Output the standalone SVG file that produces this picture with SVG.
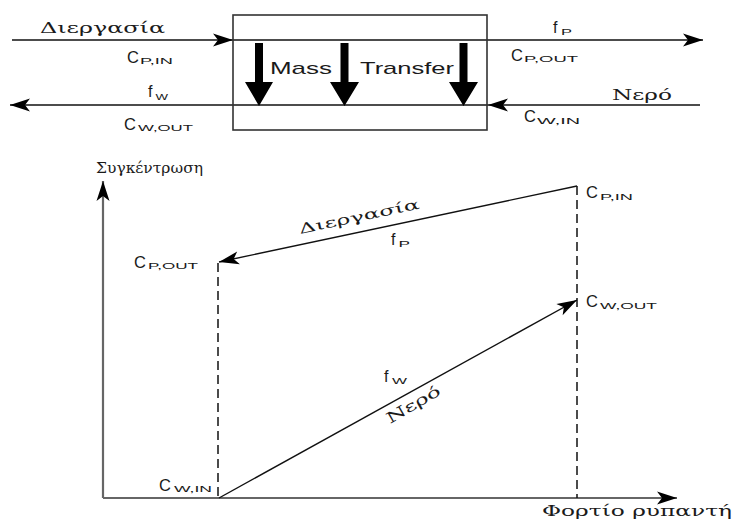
<svg xmlns="http://www.w3.org/2000/svg" width="737" height="527" viewBox="0 0 737 527">
<style>
.ln{stroke:#111;stroke-width:1.4;fill:none}
.ax{stroke:#666;stroke-width:2.2;fill:none}
.dash{stroke:#111;stroke-width:1.5;fill:none;stroke-dasharray:9 5}
.box{stroke:#333;stroke-width:1.6;fill:none}
.s{font-family:"Liberation Sans",Arial,sans-serif;fill:#1a1a1a}
.g{font-family:"DejaVu Serif","Liberation Serif",serif;fill:#1a1a1a}
.m{font-size:16.5px}
.f{font-size:16px}
.sub{font-size:9.5px}
.big{font-family:"Liberation Sans",Arial,sans-serif;font-size:17px;fill:#1a1a1a}
.thick{fill:#000}
</style>
<defs>
<marker id="ah" markerUnits="userSpaceOnUse" markerWidth="22" markerHeight="14" refX="20" refY="6.5" orient="auto" overflow="visible">
<path d="M0,0 L20,6.5 L0,13 L5,6.5 z" fill="#000"/>
</marker>
</defs>

<g id="connectors">
<path class="ln" d="M12,40 H233" marker-end="url(#ah)"/>
<path class="ln" d="M233,40 H703" marker-end="url(#ah)"/>
<path class="ln" d="M700,105 H488" marker-end="url(#ah)"/>
<path class="ln" d="M488,105 H10" marker-end="url(#ah)"/>
<path class="ax" d="M103,498 V181" marker-end="url(#ah)"/>
<path class="ax" d="M103,498 H677" marker-end="url(#ah)"/>
<path class="dash" d="M218,263 V498"/>
<path class="dash" d="M577,186 V498"/>
<path class="ln" d="M577,186 L219,262" marker-end="url(#ah)"/>
<path class="ln" d="M219,498 L577,300" marker-end="url(#ah)"/>
</g>

<g id="mass-transfer-unit">
<rect class="box" x="233" y="15" width="254" height="115"/>
<polygon class="thick" points="255,43 263,43 263,82 273,82 259,106 245,82 255,82"/>
<polygon class="thick" points="340.5,43 348.5,43 348.5,82 359,82 344.5,106 330,82 340.5,82"/>
<polygon class="thick" points="459.5,43 467.5,43 467.5,82 478,82 463.5,106 449,82 459.5,82"/>
<text class="big" x="270" y="74" textLength="62" lengthAdjust="spacingAndGlyphs">Mass</text>
<text class="big" x="360" y="74" textLength="94" lengthAdjust="spacingAndGlyphs">Transfer</text>
</g>

<g id="process-in">
<text class="g" x="40" y="33" font-size="14" textLength="125" lengthAdjust="spacingAndGlyphs">Διεργασία</text>
<text class="s m" x="127" y="63">C<tspan class="sub" x="140" y="64" textLength="33" lengthAdjust="spacingAndGlyphs">P,IN</tspan></text>
</g>
<g id="water-out">
<text class="s f" x="148" y="97">f<tspan class="sub" x="155.5" y="100" textLength="12.5" lengthAdjust="spacingAndGlyphs">W</tspan></text>
<text class="s m" x="124" y="130">C<tspan class="sub" x="138" y="131" textLength="55" lengthAdjust="spacingAndGlyphs">W,OUT</tspan></text>
</g>
<g id="process-out">
<text class="s f" x="553" y="33">f<tspan class="sub" x="561" y="35" textLength="11" lengthAdjust="spacingAndGlyphs">P</tspan></text>
<text class="s m" x="511" y="61">C<tspan class="sub" x="524" y="62" textLength="54" lengthAdjust="spacingAndGlyphs">P,OUT</tspan></text>
</g>
<g id="water-in">
<text class="g" x="612" y="100" font-size="15" textLength="60" lengthAdjust="spacingAndGlyphs">Νερό</text>
<text class="s m" x="524" y="122">C<tspan class="sub" x="537" y="124" textLength="43" lengthAdjust="spacingAndGlyphs">W,IN</tspan></text>
</g>

<g id="chart-labels">
<text class="g" x="96" y="173" font-size="15" textLength="107" lengthAdjust="spacingAndGlyphs">Συγκέντρωση</text>
<text class="g" x="542" y="516" font-size="15" textLength="190" lengthAdjust="spacingAndGlyphs">Φορτίο ρυπαντή</text>
</g>
<g id="point-cpin">
<text class="s m" x="586" y="198">C<tspan class="sub" x="600" y="200" textLength="33" lengthAdjust="spacingAndGlyphs">P,IN</tspan></text>
</g>
<g id="point-cpout">
<text class="s m" x="134" y="268">C<tspan class="sub" x="148" y="269" textLength="50" lengthAdjust="spacingAndGlyphs">P,OUT</tspan></text>
</g>
<g id="point-cwout">
<text class="s m" x="586" y="307">C<tspan class="sub" x="600" y="309" textLength="57" lengthAdjust="spacingAndGlyphs">W,OUT</tspan></text>
</g>
<g id="point-cwin">
<text class="s m" x="159" y="491">C<tspan class="sub" x="174" y="492" textLength="38" lengthAdjust="spacingAndGlyphs">W,IN</tspan></text>
</g>
<g id="process-line-label">
<text class="g" transform="translate(300,234) rotate(-12)" x="0" y="0" font-size="14" textLength="123" lengthAdjust="spacingAndGlyphs">Διεργασία</text>
<text class="s f" x="391" y="245">f<tspan class="sub" x="398.5" y="247" textLength="11.5" lengthAdjust="spacingAndGlyphs">P</tspan></text>
</g>
<g id="water-line-label">
<text class="s f" x="384" y="382">f<tspan class="sub" x="392" y="384" textLength="15" lengthAdjust="spacingAndGlyphs">W</tspan></text>
<text class="g" transform="translate(390,424) rotate(-30)" x="0" y="0" font-size="15" textLength="60" lengthAdjust="spacingAndGlyphs">Νερό</text>
</g>
</svg>
